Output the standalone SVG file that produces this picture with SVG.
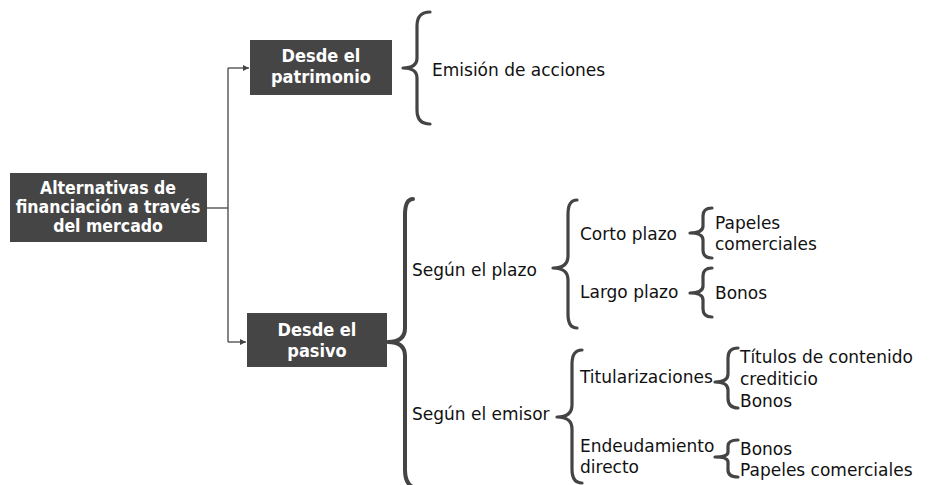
<svg xmlns="http://www.w3.org/2000/svg" width="948" height="485" viewBox="0 0 948 485">
<defs>
<marker id="arr" viewBox="0 0 10 10" refX="10" refY="5" markerWidth="6" markerHeight="6" orient="auto" markerUnits="userSpaceOnUse">
<path d="M0,0 L10,5 L0,10 z" fill="#444"/>
</marker>
<style>
.box{fill:#454545;}
.bt{font-family:"DejaVu Sans Condensed","DejaVu Sans",sans-serif;font-stretch:condensed;font-weight:bold;font-size:18px;fill:#fff;text-anchor:middle;}
.bm{font-size:17.5px;}
.t{font-family:"DejaVu Sans",sans-serif;font-size:17px;fill:#111;}
.br{fill:none;stroke:#444;stroke-width:3.2;stroke-linejoin:round;stroke-linecap:round;}
.bb{stroke-width:4;}
.cn{fill:none;stroke:#444;stroke-width:1.3;}
</style>
</defs>
<rect width="948" height="485" fill="#fff"/>
<g id="connectors">
<path class="cn" d="M207,208 H228"/>
<path class="cn" d="M228,68 V342"/>
<path class="cn" d="M228,68 H249" marker-end="url(#arr)"/>
<path class="cn" d="M228,342 H246" marker-end="url(#arr)"/>
</g>
<g id="node-main">
<rect class="box" x="10" y="173" width="197" height="69"/>
<text class="bt bm" x="108" y="194">Alternativas de</text>
<text class="bt bm" x="108" y="213">financiación a través</text>
<text class="bt bm" x="108" y="232">del mercado</text>
</g>
<g id="node-patrimonio">
<rect class="box" x="250" y="40" width="142" height="55"/>
<text class="bt" x="321" y="62">Desde el</text>
<text class="bt" x="321" y="83">patrimonio</text>
</g>
<g id="node-pasivo">
<rect class="box" x="247" y="313" width="140" height="54"/>
<text class="bt" x="317" y="336">Desde el</text>
<text class="bt" x="317" y="357">pasivo</text>
</g>
<g id="braces">
<path class="br" d="M430,12 Q417,12 417,26 L417,58 Q417,68 403,68 Q417,68 417,78 L417,110 Q417,124 430,124"/>
<path class="br bb" d="M413,199 Q405,199 405,215 L405,328 Q405,342 388,342 Q405,342 405,356 L405,470 Q405,485 415,488"/>
<path class="br" d="M577,200 Q568,200 568,214 L568,256 Q568,268 553,268 Q568,268 568,280 L568,314 Q568,328 577,328"/>
<path class="br" d="M712,208 Q703,208 703,216 L703,226 Q703,233 690,233 Q703,233 703,240 L703,250 Q703,258 712,258"/>
<path class="br" d="M712,268 Q703,268 703,276 L703,286 Q703,293 690,293 Q703,293 703,300 L703,309 Q703,317 712,317"/>
<path class="br" d="M582,350 Q572,350 572,364 L572,405 Q572,417 557,417 Q572,417 572,429 L572,469 Q572,483 582,483"/>
<path class="br" d="M738,348 Q728,348 728,358 L728,374 Q728,382 715,382 Q728,382 728,390 L728,398 Q728,408 738,408"/>
<path class="br" d="M738,440 Q728,440 728,446 L728,452 Q728,457 715,457 Q728,457 728,462 L728,470 Q728,477 738,477"/>
</g>
<g id="labels">
<text class="t" x="432" y="76">Emisión de acciones</text>
<text class="t" x="412" y="276">Según el plazo</text>
<text class="t" x="412" y="420">Según el emisor</text>
<text class="t" x="580" y="240">Corto plazo</text>
<text class="t" x="580" y="298">Largo plazo</text>
<text class="t" x="715" y="229">Papeles</text>
<text class="t" x="715" y="250">comerciales</text>
<text class="t" x="715" y="299">Bonos</text>
<text class="t" x="580" y="383">Titularizaciones</text>
<text class="t" x="740" y="363">Títulos de contenido</text>
<text class="t" x="740" y="385">crediticio</text>
<text class="t" x="740" y="407">Bonos</text>
<text class="t" x="580" y="452">Endeudamiento</text>
<text class="t" x="580" y="473">directo</text>
<text class="t" x="740" y="455">Bonos</text>
<text class="t" x="740" y="476">Papeles comerciales</text>
</g>
</svg>
